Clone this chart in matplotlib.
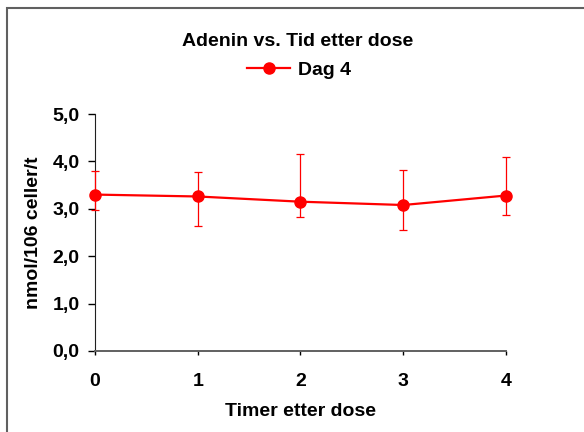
import matplotlib.pyplot as plt
from matplotlib.patches import Rectangle
from matplotlib.lines import Line2D

plt.rcParams["font.family"] = ["Liberation Sans", "DejaVu Sans"]
plt.rcParams["font.weight"] = "bold"

hours = [0, 1, 2, 3, 4]
adenin = [3.30, 3.26, 3.15, 3.08, 3.28]
err_low = [0.33, 0.62, 0.32, 0.53, 0.41]
err_high = [0.49, 0.52, 1.00, 0.74, 0.81]
yticks = [0.0, 1.0, 2.0, 3.0, 4.0, 5.0]

fig = plt.figure(figsize=(5.84, 4.32), dpi=100)
ax = fig.add_axes([0.1627, 0.1875, 0.7037, 0.5486])

ax.errorbar(hours, adenin, yerr=[err_low, err_high],
            color="#ff0000", linewidth=1.6, marker="o", markersize=8,
            ecolor="#ff0000", elinewidth=0.9, capsize=3, capthick=0.9,
            clip_on=False, zorder=3)

ax.set_xlim(0, 4)
ax.set_ylim(0, 5)
ax.set_xticks(hours)
ax.set_yticks(yticks)
ax.set_yticklabels([f"{v:.1f}".replace(".", ",") for v in yticks])
ax.tick_params(axis="x", direction="out", length=3, width=1, labelsize=14, pad=13)
ax.tick_params(axis="y", direction="out", length=5, width=1, labelsize=14, pad=6)
for lab in ax.get_xticklabels() + ax.get_yticklabels():
    lab.set_fontweight("bold")
ax.spines["top"].set_visible(False)
ax.spines["right"].set_visible(False)
ax.spines["left"].set_color("#202020")
ax.spines["bottom"].set_color("#606060")
ax.spines["bottom"].set_linewidth(1.4)

ax.set_xlabel("Timer etter dose", fontsize=14, fontweight="bold", labelpad=9)
ax.set_ylabel("nmol/106 celler/t", fontsize=14, fontweight="bold", labelpad=8)

fig.text(0.51, 1 - 42 / 432, "Adenin vs. Tid etter dose", ha="center", va="center",
         fontsize=14, fontweight="bold")
handle = Line2D([], [], color="#ff0000", linewidth=1.6, marker="o", markersize=8)
fig.legend([handle], ["Dag 4"], loc="center", bbox_to_anchor=(0.512, 1 - 70 / 432),
           frameon=False, fontsize=14, handlelength=2.2, handletextpad=0.4)

fig.patches.append(Rectangle((7 / 584, -0.05), 1.1, 1.05 - 8 / 432,
                             transform=fig.transFigure, fill=False,
                             edgecolor="#606060", linewidth=1.5))

fig.savefig("out.png", dpi=100)
